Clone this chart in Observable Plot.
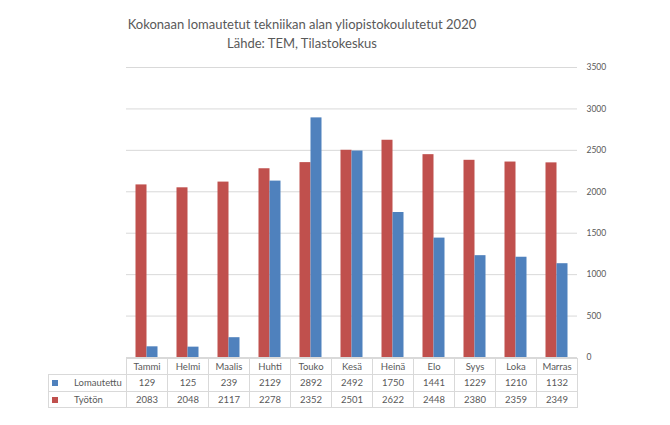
<!DOCTYPE html>
<html><head><meta charset="utf-8">
<script src="https://cdn.jsdelivr.net/npm/d3@7"></script>
<script src="https://cdn.jsdelivr.net/npm/@observablehq/plot@0.6"></script>
<style>
body{margin:0;background:#fff;}
#wrap{position:relative;width:670px;height:425px;font-family:Lato,"Open Sans",sans-serif;overflow:hidden;}
#title{position:absolute;left:0;width:604px;top:15px;text-align:center;font-size:13px;line-height:19px;color:#595959;}
#chart{position:absolute;left:0;top:0;}
#tbl{position:absolute;border-collapse:collapse;table-layout:fixed;font-size:9.5px;color:#595959;}
#tbl td{border:1px solid #d9d9d9;text-align:center;padding:0;height:15.3px;line-height:15px;white-space:nowrap;overflow:hidden;}
#tbl td.h{text-align:left;}
#tbl td.blank{border:none;}
.sw{display:inline-block;width:6px;height:6px;margin-left:3px;margin-right:16px;vertical-align:0px;}
</style></head>
<body>
<div id="wrap">
  <div id="chart"></div>
  <div id="title">Kokonaan lomautetut tekniikan alan yliopistokoulutetut 2020<br>Lähde: TEM, Tilastokeskus</div>
  <table id="tbl"></table>
</div>
<script>
const months = ["Tammi","Helmi","Maalis","Huhti","Touko","Kesä","Heinä","Elo","Syys","Loka","Marras"];
const lomautettu = [129,125,239,2129,2892,2492,1750,1441,1229,1210,1132];
const tyoton = [2083,2048,2117,2278,2352,2501,2622,2448,2380,2359,2349];
const seriesNames = ["Lomautettu","Työtön"];
const seriesColors = ["#4F81BD","#C0504D"];
const yTicks = [0,500,1000,1500,2000,2500,3000,3500];

const dataL = months.map((m,i)=>({month:m, value:lomautettu[i]}));
const dataT = months.map((m,i)=>({month:m, value:tyoton[i]}));

const W = 670, H = 372;
const plot = Plot.plot({
  width: W, height: H,
  marginTop: 67, marginBottom: 15, marginLeft: 126, marginRight: 93,
  style: {fontFamily: "Lato, 'Open Sans', sans-serif", fontSize: "9px", color: "#595959", background: "transparent"},
  x: {domain: months, padding: 0, axis: null},
  y: {domain: [0, 3500], axis: null},
  marks: [
    Plot.gridY(yTicks, {stroke: "#d9d9d9", strokeOpacity: 1}),
    Plot.axisY(yTicks, {anchor: "right", label: null, tickSize: 0, tickPadding: 9, fontSize: 8.5, textAnchor: "start", tickFormat: d => String(d)}),
    Plot.barY(dataT, {x: "month", y: "value", fill: seriesColors[1], insetLeft: 9.5, insetRight: 20.5}),
    Plot.barY(dataL, {x: "month", y: "value", fill: seriesColors[0], insetLeft: 20.5, insetRight: 9.5})
  ]
});
document.getElementById("chart").appendChild(plot);

// data table aligned with the x band scale
const xs = plot.scale("x");
const step = xs.bandwidth;
const left0 = xs.range[0];
const headerW = 78;
const tbl = document.getElementById("tbl");
tbl.style.left = (left0 - headerW) + "px";
tbl.style.top = "358px";
tbl.style.width = (headerW + step*months.length) + "px";
let html = "<colgroup><col style='width:"+headerW+"px'>" + months.map(()=>"<col style='width:"+step+"px'>").join("") + "</colgroup>";
html += "<tr><td class='blank'></td>" + months.map(m=>"<td>"+m+"</td>").join("") + "</tr>";
const rows = [lomautettu, tyoton];
rows.forEach((vals, r) => {
  html += "<tr><td class='h'><span class='sw' style='background:"+seriesColors[r]+"'></span>"+seriesNames[r]+"</td>" + vals.map(v=>"<td>"+v+"</td>").join("") + "</tr>";
});
tbl.innerHTML = html;
</script>
</body></html>
